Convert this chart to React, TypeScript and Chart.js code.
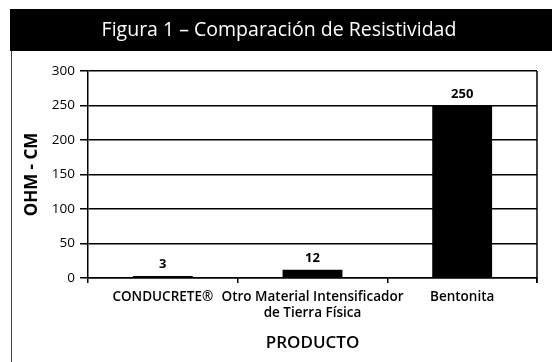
import React, { useEffect, useRef } from "react";
import { Chart, registerables } from "chart.js";

Chart.register(...registerables);

const TITLE = "Figura 1 – Comparación de Resistividad";
const categories: (string | string[])[] = [
  "CONDUCRETE®",
  ["Otro Material Intensificador", "de Tierra Física"],
  "Bentonita",
];
const values = [3, 12, 250];
const yTicks = [0, 50, 100, 150, 200, 250, 300];
const yTitle = "OHM - CM";
const xTitle = "PRODUCTO";

const FONT = "'Open Sans', 'Noto Sans', sans-serif";

const framePlugin = {
  id: "frame",
  beforeDraw(chart: any) {
    const { ctx } = chart;
    ctx.save();
    ctx.fillStyle = "#ffffff";
    ctx.fillRect(0, 0, chart.width, chart.height);
    // title band
    ctx.fillStyle = "#000000";
    ctx.fillRect(10, 9, chart.width - 10, 42);
    ctx.fillStyle = "#ffffff";
    ctx.font = `normal 19.5px ${FONT}`;
    ctx.textAlign = "center";
    ctx.textBaseline = "middle";
    ctx.fillText(TITLE, (10 + chart.width) / 2 - 2, 30);
    // left frame line
    ctx.strokeStyle = "#444444";
    ctx.lineWidth = 1;
    ctx.beginPath();
    ctx.moveTo(11.5, 51);
    ctx.lineTo(11.5, chart.height);
    ctx.stroke();
    ctx.restore();
  },
  afterDatasetsDraw(chart: any) {
    const { ctx, chartArea } = chart;
    ctx.save();
    ctx.strokeStyle = "#000";
    ctx.lineWidth = 1.5;
    ctx.beginPath();
    ctx.moveTo(chartArea.right, chartArea.top);
    ctx.lineTo(chartArea.right, chartArea.bottom + 5);
    ctx.stroke();
    // value labels
    const meta = chart.getDatasetMeta(0);
    ctx.fillStyle = "#000";
    ctx.font = `bold 13px ${FONT}`;
    ctx.textAlign = "center";
    ctx.textBaseline = "bottom";
    meta.data.forEach((bar: any, i: number) => {
      ctx.fillText(String(values[i]), bar.x, bar.y - 5);
    });
    ctx.restore();
  },
};

export default function App() {
  const ref = useRef<HTMLCanvasElement>(null);
  useEffect(() => {
    document.body.style.margin = "0";
    const chart = new Chart(ref.current!, {
      type: "bar",
      data: {
        labels: categories,
        datasets: [
          {
            data: values,
            backgroundColor: "#000",
            borderWidth: 0,
            barPercentage: 0.4,
            categoryPercentage: 1,
          },
        ],
      },
      options: {
        animation: false,
        responsive: false,
        devicePixelRatio: 1,
        layout: { padding: { left: 0, right: 15, top: 71, bottom: 0 } },
        plugins: {
          legend: { display: false },
          tooltip: { enabled: false },
          title: { display: false },
        },
        scales: {
          x: {
            grid: {
              offset: true,
              drawOnChartArea: false,
              drawTicks: true,
              tickLength: 5,
              color: "#000",
              lineWidth: 1.5,
            },
            border: { display: true, color: "#000", width: 1.5 },
            ticks: {
              color: "#000",
              font: { family: FONT, size: 13.5, weight: 600 },
              padding: 6,
              maxRotation: 0,
              autoSkip: false,
            },
            title: {
              display: true,
              text: xTitle,
              color: "#000",
              font: { family: FONT, size: 17, weight: 600 },
              padding: { top: 0, bottom: 9 },
            },
            afterFit(scale: any) {
              scale.height = 84;
            },
          },
          y: {
            min: 0,
            max: 300,
            afterBuildTicks(scale: any) {
              scale.ticks = yTicks.map((v) => ({ value: v }));
            },
            grid: {
              color: "#000",
              lineWidth: 1.5,
              drawTicks: true,
              tickLength: 8,
            },
            border: { display: true, color: "#000", width: 1.5 },
            ticks: {
              color: "#000",
              font: { family: FONT, size: 13.5 },
              padding: 5,
            },
            title: {
              display: true,
              text: yTitle,
              color: "#000",
              font: { family: FONT, size: 17, weight: "bold" },
              padding: { top: 22, bottom: 0 },
            },
            afterFit(scale: any) {
              scale.width = 88;
            },
          },
        },
      },
      plugins: [framePlugin],
    });
    return () => chart.destroy();
  }, []);
  return <canvas ref={ref} width={552} height={362} style={{ display: "block" }} />;
}
